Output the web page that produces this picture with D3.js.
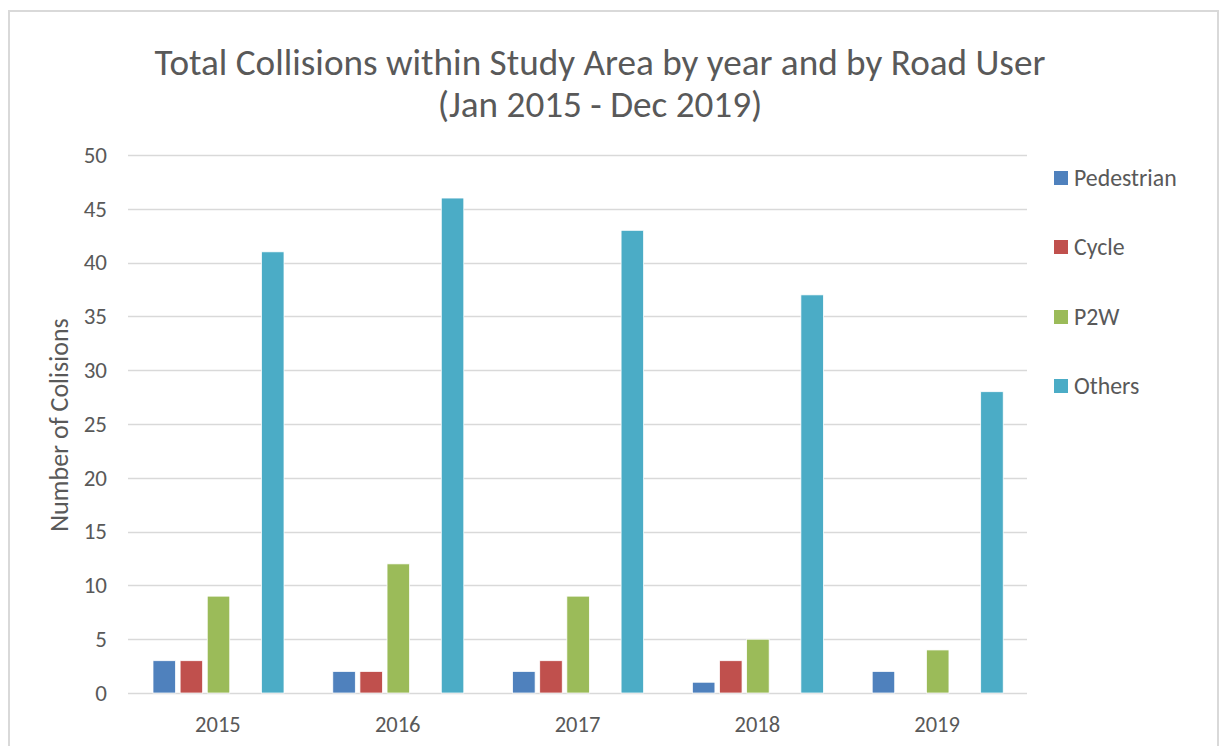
<!DOCTYPE html>
<html>
<head>
<meta charset="utf-8">
<script src="https://cdn.jsdelivr.net/npm/d3@7"></script>
<style>
  html, body { margin: 0; padding: 0; background: #fff; }
  svg { display: block; }
  text { font-family: Carlito, Calibri, Lato, "Open Sans", sans-serif; fill: #595959; }
</style>
</head>
<body>
<svg id="chart" width="1219" height="746"></svg>
<script>
const years = ["2015", "2016", "2017", "2018", "2019"];
const seriesNames = ["Pedestrian", "Cycle", "P2W", "Others"];
const pedestrian = [3, 2, 2, 1, 2];
const cycle = [3, 2, 3, 3, 0];
const p2w = [9, 12, 9, 5, 4];
const others = [41, 46, 43, 37, 28];
const yTicks = [0, 5, 10, 15, 20, 25, 30, 35, 40, 45, 50];
const titleLines = ["Total Collisions within Study Area by year and by Road User", "(Jan 2015 - Dec 2019)"];
const yAxisTitle = "Number of Colisions";

const colors = { Pedestrian: "#4f81bd", Cycle: "#c0504d", P2W: "#9bbb59", Others: "#4bacc6" };
const seriesValues = { Pedestrian: pedestrian, Cycle: cycle, P2W: p2w, Others: others };
// slot layout: a blank (hidden) slot sits between P2W and Others, as in the original
const slots = ["Pedestrian", "Cycle", "P2W", "_blank", "Others"];
const FONT = "Carlito, Calibri, Lato, 'Open Sans', sans-serif";

const svg = d3.select("#chart");

// outer frame
svg.append("rect").attr("x", 9).attr("y", 11).attr("width", 1209).attr("height", 760)
  .attr("fill", "none").attr("stroke", "#d9d9d9").attr("stroke-width", 2);

const plotLeft = 128, plotRight = 1027, plotTop = 155, plotBottom = 693;

const x = d3.scaleBand().domain(years).range([plotLeft, plotRight]).padding(0);
const xs = d3.scaleBand().domain(slots).range([25, 156]).paddingInner(0.17).paddingOuter(0);
const y = d3.scaleLinear().domain([0, 50]).range([plotBottom, plotTop]);

// gridlines
svg.append("g").selectAll("line").data(yTicks).join("line")
  .attr("x1", plotLeft).attr("x2", plotRight)
  .attr("y1", d => Math.round(y(d)) + 0.5).attr("y2", d => Math.round(y(d)) + 0.5)
  .attr("stroke", "#d9d9d9").attr("stroke-width", 1.5);

// y axis labels
const yAxis = d3.axisLeft(y).tickValues(yTicks).tickSize(0).tickPadding(0);
const gy = svg.append("g").attr("transform", `translate(107,0)`).call(yAxis);
gy.select(".domain").remove();
gy.selectAll("text").style("font-size", "23px").attr("fill", "#595959")
  .style("font-family", FONT);

// x axis labels
const xAxis = d3.axisBottom(x).tickSize(0).tickPadding(0);
const gx = svg.append("g").attr("transform", `translate(0,716)`).call(xAxis);
gx.select(".domain").remove();
gx.selectAll("text").style("font-size", "22.5px").attr("fill", "#595959")
  .style("font-family", FONT);

// bars
const barData = [];
years.forEach((yr, i) => {
  seriesNames.forEach(s => {
    barData.push({ year: yr, series: s, value: seriesValues[s][i] });
  });
});
svg.append("g").selectAll("rect").data(barData.filter(d => d.value > 0)).join("rect")
  .attr("x", d => x(d.year) + xs(d.series))
  .attr("width", xs.bandwidth())
  .attr("y", d => y(d.value))
  .attr("height", d => y(0) - y(d.value))
  .attr("fill", d => colors[d.series])
  .attr("stroke", "#ffffff").attr("stroke-width", 0.75);

// title
const title = svg.append("text").attr("text-anchor", "middle")
  .style("font-size", "37.2px").style("font-weight", 300);
title.selectAll("tspan").data(titleLines).join("tspan")
  .attr("x", 600).attr("y", (d, i) => 75 + i * 42).text(d => d);

// y axis title
svg.append("text").attr("text-anchor", "middle")
  .attr("transform", "translate(68,425) rotate(-90)")
  .style("font-size", "26px").text(yAxisTitle);

// legend
const legendY = [178, 247, 317, 386];
const lg = svg.append("g").selectAll("g").data(seriesNames).join("g")
  .attr("transform", (d, i) => `translate(1054,${legendY[i]})`);
lg.append("rect").attr("x", 0).attr("y", -7).attr("width", 14).attr("height", 14)
  .attr("fill", d => colors[d]);
lg.append("text").attr("x", 20).attr("y", 0).attr("dy", "0.35em")
  .style("font-size", "23.8px").text(d => d);
</script>
</body>
</html>
